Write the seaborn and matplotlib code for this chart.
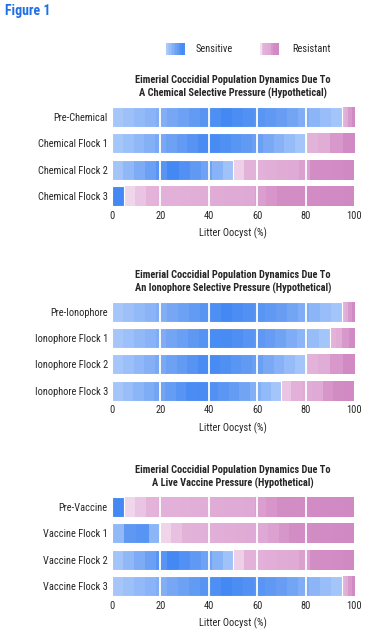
import numpy as np
import pandas as pd
import matplotlib
matplotlib.use("Agg")
import matplotlib.pyplot as plt
from matplotlib.colors import LinearSegmentedColormap
import seaborn as sns

# Data (% of litter oocysts)
chem_labels = ['Pre-Chemical', 'Chemical Flock 1', 'Chemical Flock 2', 'Chemical Flock 3']
chem_sensitive = [95, 80, 50, 5]
chem_resistant = [5, 20, 50, 95]

iono_labels = ['Pre-Ionophore', 'Ionophore Flock 1', 'Ionophore Flock 2', 'Ionophore Flock 3']
iono_sensitive = [95, 90, 80, 70]
iono_resistant = [5, 10, 20, 30]

vacc_labels = ['Pre-Vaccine', 'Vaccine Flock 1', 'Vaccine Flock 2', 'Vaccine Flock 3']
vacc_sensitive = [5, 20, 50, 95]
vacc_resistant = [95, 80, 50, 5]

titles = ['Eimerial Coccidial Population Dynamics Due To\nA Chemical Selective Pressure (Hypothetical)',
          'Eimerial Coccidial Population Dynamics Due To\nAn Ionophore Selective Pressure (Hypothetical)',
          'Eimerial Coccidial Population Dynamics Due To\nA Live Vaccine Pressure (Hypothetical)']

# gradient colour maps used to fill the bars
blue_cmap = LinearSegmentedColormap.from_list(
    'sens', [(0, '#abcafb'), (0.25, '#7aa9f5'), (0.5, '#4489f3'), (0.75, '#6a9ff4'), (1, '#abcafb')])
pink_cmap = LinearSegmentedColormap.from_list(
    'res', [(0, '#f3dff0'), (0.12, '#e3b3da'), (0.55, '#dfa9d5'), (0.68, '#d48ec6'), (1, '#d189c3')])

sns.set_style("white")
plt.rcParams['font.family'] = ['Roboto Condensed', 'DejaVu Sans']
plt.rcParams['font.size'] = 7

fig = plt.figure(figsize=(3.8, 6.34), dpi=100)

W, H = 380, 634
left, width = 112 / W, 242 / W
panel_px = [(103.8, 209.2), (298.5, 403.9), (493.5, 599.2)]


def gradient_fill(ax, patch, x0, x1, cmap, step=4.5, min_bands=1):
    # banded horizontal gradient clipped to the bar patch
    n = max(int(round((x1 - x0) / step)), min_bands)
    t = ((np.arange(n) + 0.5) / n).reshape(1, -1)
    bb = patch.get_bbox()
    im = ax.imshow(t, cmap=cmap, vmin=0, vmax=1, aspect='auto',
                   extent=(x0, x1, bb.y1, bb.y0), interpolation='nearest', zorder=1.5)
    im.set_clip_path(patch)


panels = [(chem_labels, chem_sensitive, chem_resistant),
          (iono_labels, iono_sensitive, iono_resistant),
          (vacc_labels, vacc_sensitive, vacc_resistant)]

for (labels, sens, res), title, (top, bot) in zip(panels, titles, panel_px):
    ax = fig.add_axes([left, 1 - bot / H, width, (bot - top) / H])
    df = pd.DataFrame({'group': labels, 'Sensitive': sens, 'Resistant': res})
    df['Total'] = df['Sensitive'] + df['Resistant']

    n0 = len(ax.patches)
    sns.barplot(data=df, x='Total', y='group', orient='h', color='#d189c3', width=0.76, ax=ax)
    total_patches = ax.patches[n0:]
    n1 = len(ax.patches)
    sns.barplot(data=df, x='Sensitive', y='group', orient='h', color='#4489f3', width=0.76, ax=ax)
    sens_patches = ax.patches[n1:]

    for tp, sp in zip(total_patches, sens_patches):
        s_end = sp.get_x() + sp.get_width()
        t_end = tp.get_x() + tp.get_width()
        gradient_fill(ax, tp, s_end, t_end, pink_cmap, min_bands=4)
        gradient_fill(ax, sp, sp.get_x(), s_end, blue_cmap)
        tp.set_facecolor('none')
        tp.set_edgecolor('none')
        sp.set_facecolor('none')
        sp.set_edgecolor('white')
        sp.set_linewidth(0.8)
        sp.set_zorder(2)

    ax.set_xlim(0, 100)
    ax.set_ylim(3.5, -0.5)
    ax.set_xticks(range(0, 101, 20))
    ax.grid(False)
    for x in [20, 40, 60, 80]:
        ax.axvline(x, color='white', lw=1.3, zorder=3)
    sns.despine(ax=ax, left=True, bottom=True)
    ax.tick_params(axis='both', length=0, labelsize=7.5)
    ax.tick_params(axis='x', pad=1)
    ax.tick_params(axis='y', pad=3)
    ax.set_ylabel('')
    ax.set_xlabel('Litter Oocyst (%)', fontsize=7.5, labelpad=5)
    ax.set_title(title, fontsize=7.5, fontweight='bold', pad=5, linespacing=1.3)

# legend built from the same gradients
blue_ax = fig.add_axes([166 / W, 1 - 55 / H, 19 / W, 12 / H])
blue_ax.imshow(np.linspace(0, 0.55, 12).reshape(1, -1), cmap=blue_cmap, vmin=0, vmax=1,
               aspect='auto', interpolation='nearest')
blue_ax.axis('off')
pink_ax = fig.add_axes([260 / W, 1 - 55 / H, 19 / W, 12 / H])
pink_ax.imshow(np.linspace(0, 1, 12).reshape(1, -1), cmap=pink_cmap, vmin=0, vmax=1,
               aspect='auto', interpolation='nearest')
pink_ax.axis('off')
fig.text(196 / W, 1 - 49 / H, 'Sensitive', fontsize=7.5, va='center')
fig.text(292 / W, 1 - 49 / H, 'Resistant', fontsize=7.5, va='center')

fig.text(5 / W, 1 - 4 / H, 'Figure 1', fontsize=10, fontweight='bold', color='#1f6fe6', va='top')

plt.savefig("out.png", dpi=100)
